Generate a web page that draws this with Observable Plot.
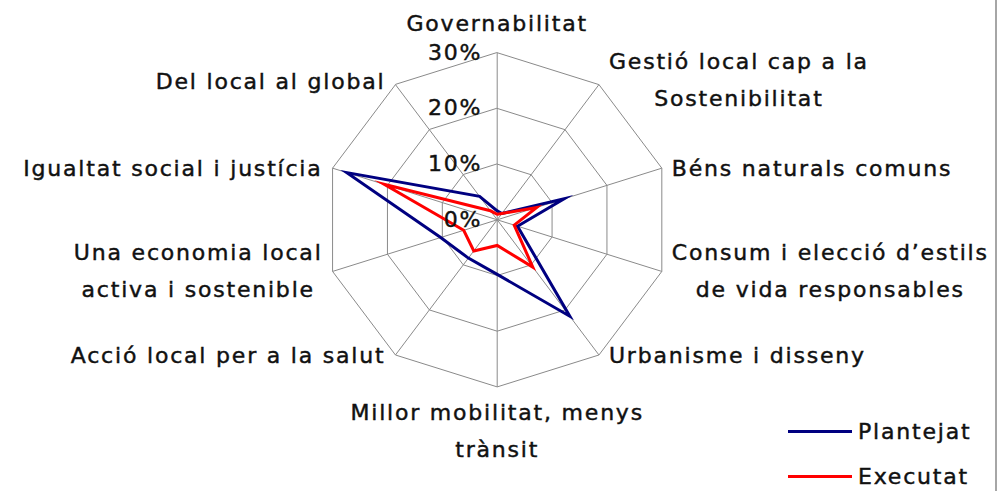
<!DOCTYPE html>
<html>
<head>
<meta charset="utf-8">
<script src="https://cdn.jsdelivr.net/npm/d3@7"></script>
<script src="https://cdn.jsdelivr.net/npm/@observablehq/plot@0.6"></script>
<style>
  body { margin: 0; background: #fff; font-family: "DejaVu Sans", sans-serif; }
  #wrap { position: relative; width: 998px; height: 491px; overflow: hidden; }
  #wrap svg text { letter-spacing: 1.8px; stroke: #111; stroke-width: 0.45px; }
  .legend { position: absolute; left: 788px; font-size: 22px; letter-spacing: 1.8px; color: #111; display: flex; align-items: center; -webkit-text-stroke: 0.45px #111; }
  .legend span.sw { display: inline-block; width: 64px; height: 3px; margin-right: 6px; -webkit-text-stroke: 0; }
  #border { position: absolute; left: 995px; top: 0; width: 2px; height: 491px; background: #a6a6a6; }
</style>
</head>
<body>
<div id="wrap"></div>
<script>
// ---- data ----
const categories = [
  "Governabilitat",
  "Gestió local cap a la\nSostenibilitat",
  "Béns naturals comuns",
  "Consum i elecció d’estils\nde vida responsables",
  "Urbanisme i disseny",
  "Millor mobilitat, menys\ntrànsit",
  "Acció local per a la salut",
  "Una economia local\nactiva i sostenible",
  "Igualtat social i justícia",
  "Del local al global"
];
const plantejat = [1.6, 1.4, 12.2, 3.7, 21.4, 9.8, 8.5, 10.3, 27.4, 5.2];
const executat  = [1.0, 1.4, 7.2, 3.1, 10.5, 4.6, 6.9, 6.1, 20.6, 2.0];
const seriesNames = ["Plantejat", "Executat"];
const seriesColors = ["#000080", "#ff0000"];
const ticks = [0, 10, 20, 30];
const tickLabels = ["0%", "10%", "20%", "30%"];
const rMax = 30;

// ---- derived geometry (polar -> cartesian in data units) ----
const n = categories.length;
const ang = i => (2 * Math.PI * i) / n;
const pt = (v, i) => ({x: v * Math.sin(ang(i)), y: v * Math.cos(ang(i))});

const seriesRows = (vals, name) => vals.map((v, i) => ({series: name, cat: categories[i], value: v, ...pt(v, i)}));
const rowsP = seriesRows(plantejat, seriesNames[0]);
const rowsE = seriesRows(executat, seriesNames[1]);

const rings = ticks.filter(t => t > 0).flatMap(t => categories.map((c, i) => ({r: t, ...pt(t, i)})));
const spokes = categories.map((c, i) => ({cat: c, ...pt(rMax, i)}));
const tickRows = ticks.map((t, k) => ({label: tickLabels[k], y: t}));

const labelRows = categories.map((c, i) => {
  const p = pt(rMax, i);
  const s = Math.sin(ang(i)), co = Math.cos(ang(i));
  const side = co > 0.9 ? "top" : co < -0.9 ? "bottom" : s > 0 ? "right" : "left";
  const upper = co > 0.5;
  return {text: c, side, multi: c.includes("\n"), upper, ...p};
});

// scales: center at (496.7, 219.3), ~5.77 px per % horizontally, 5.57 px per % vertically
const W = 998, H = 491, cx = 496.7, cy = 219.3, kx = 5.77, ky = 5.57;

const lab = (filter, opts) => Plot.text(labelRows.filter(filter), {x: "x", y: "y", text: "text", fill: "#111", ...opts});

const chart = Plot.plot({
  width: W, height: H, margin: 0,
  x: {domain: [-cx / kx, (W - cx) / kx], axis: null},
  y: {domain: [-(H - cy) / ky, cy / ky], axis: null},
  style: {fontFamily: "DejaVu Sans", fontSize: "22px", color: "#111", background: "#fff"},
  marks: [
    Plot.link(spokes, {x1: 0, y1: 0, x2: "x", y2: "y", stroke: "#8a8a8a", strokeWidth: 1}),
    Plot.line(rings, {x: "x", y: "y", z: "r", curve: "linear-closed", stroke: "#8a8a8a", strokeWidth: 1}),
    Plot.line(rowsP, {x: "x", y: "y", curve: "linear-closed", stroke: seriesColors[0], strokeWidth: 3, strokeLinejoin: "miter", strokeMiterlimit: 12}),
    Plot.line(rowsE, {x: "x", y: "y", curve: "linear-closed", stroke: seriesColors[1], strokeWidth: 3, strokeLinejoin: "miter", strokeMiterlimit: 12}),
    Plot.text(tickRows, {x: 0, y: "y", text: "label", textAnchor: "end", dx: -15, fill: "#111"}),
    lab(d => d.side === "top", {lineAnchor: "bottom", dy: -22}),
    lab(d => d.side === "bottom", {lineAnchor: "top", lineHeight: 1.68, dy: 7}),
    lab(d => d.side === "right" && !d.multi, {textAnchor: "start", dx: 10, dy: 1}),
    lab(d => d.side === "right" && d.multi && d.upper, {textAnchor: "start", dx: 10, lineHeight: 1.68, dy: -9}),
    lab(d => d.side === "right" && d.multi && !d.upper, {textAnchor: "start", dx: 10, lineHeight: 1.68, dy: -5}),
    lab(d => d.side === "left" && !d.multi && d.upper, {textAnchor: "end", dx: -10, dy: -3}),
    lab(d => d.side === "left" && !d.multi && !d.upper, {textAnchor: "end", dx: -10, dy: 1}),
    lab(d => d.side === "left" && d.multi, {textAnchor: "end", dx: -10, lineHeight: 1.68, dy: -5})
  ]
});

const wrap = document.getElementById("wrap");
wrap.appendChild(chart);

// center the lines of multi-line labels within their block (as in the original)
chart.querySelectorAll("text").forEach(t => {
  const spans = t.querySelectorAll("tspan");
  if (spans.length < 2) return;
  const ws = Array.from(spans, s => s.getComputedTextLength());
  const Wmax = Math.max(...ws);
  const anchor = getComputedStyle(t).textAnchor;
  spans.forEach((s, k) => {
    const off = (Wmax - ws[k]) / 2;
    if (anchor === "start") s.setAttribute("x", off);
    else if (anchor === "end") s.setAttribute("x", -off);
  });
});

// legend
seriesNames.forEach((name, k) => {
  const d = document.createElement("div");
  d.className = "legend";
  d.style.top = (k === 0 ? 419 : 464) + "px";
  d.innerHTML = `<span class="sw" style="background:${seriesColors[k]}"></span><span>${name}</span>`;
  wrap.appendChild(d);
});
const b = document.createElement("div");
b.id = "border";
wrap.appendChild(b);
</script>
</body>
</html>
